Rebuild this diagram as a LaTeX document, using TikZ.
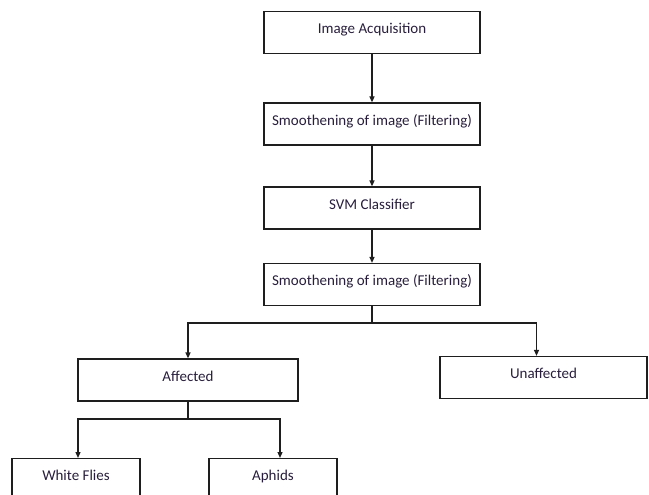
\documentclass[tikz,border=0pt]{standalone}
\usepackage{fontspec}
\setmainfont{Carlito}
\usetikzlibrary{arrows.meta, positioning}
\definecolor{boxline}{RGB}{30, 30, 30}
\definecolor{boxtext}{RGB}{40, 30, 60}
\tikzset{
  stage/.style={rectangle, draw=boxline, line width=1.2pt, text=boxtext,
                minimum width=#1, minimum height=42pt, text height=11pt, text depth=9pt,
                inner sep=0pt, font=\fontsize{15}{18}\selectfont},
  stage/.default=216pt,
  arrow/.style={-{Triangle[length=6pt,width=5pt]}, line width=1.2pt, color=boxline},
  link/.style={line width=1.2pt, color=boxline},
}

\begin{document}
\begin{tikzpicture}[x=1pt,y=-1pt]
  \useasboundingbox (0,0) rectangle (649,495);
  \clip (0,0) rectangle (649,495);
  % main chain
  \node[stage] (acq) at (372,32.5) {Image Acquisition};
  \node[stage] (filt1) at (372,124) {Smoothening of image (Filtering)};
  \node[stage] (svm) at (372,208) {SVM Classifier};
  \node[stage] (filt2) at (372,284.5) {Smoothening of image (Filtering)};
  % classes
  \node[stage=220pt] (aff) at (188,380) {Affected};
  \node[stage=207pt] (unaff) at (543.5,377.5) {Unaffected};
  % pests
  \node[stage=128pt, anchor=north] (flies) at (76,458) {White Flies};
  \node[stage=128pt, anchor=north] (aphids) at (273,458) {Aphids};
  % connectors
  \draw[arrow] (acq) -- (filt1);
  \draw[arrow] (filt1) -- (svm);
  \draw[arrow] (svm) -- (filt2);
  \coordinate (split) at (372,323);
  \draw[link] (filt2.south) -- (split);
  \draw[arrow] (split) -| (aff.north);
  \draw[arrow] (split) -| ([xshift=-7pt]unaff.north);
  \coordinate (pestsplit) at (188,419);
  \draw[link] (aff.south) -- (pestsplit);
  \draw[arrow] (pestsplit) -| ([xshift=2pt]flies.north);
  \draw[arrow] (pestsplit) -| ([xshift=7pt]aphids.north);
\end{tikzpicture}
\end{document}
